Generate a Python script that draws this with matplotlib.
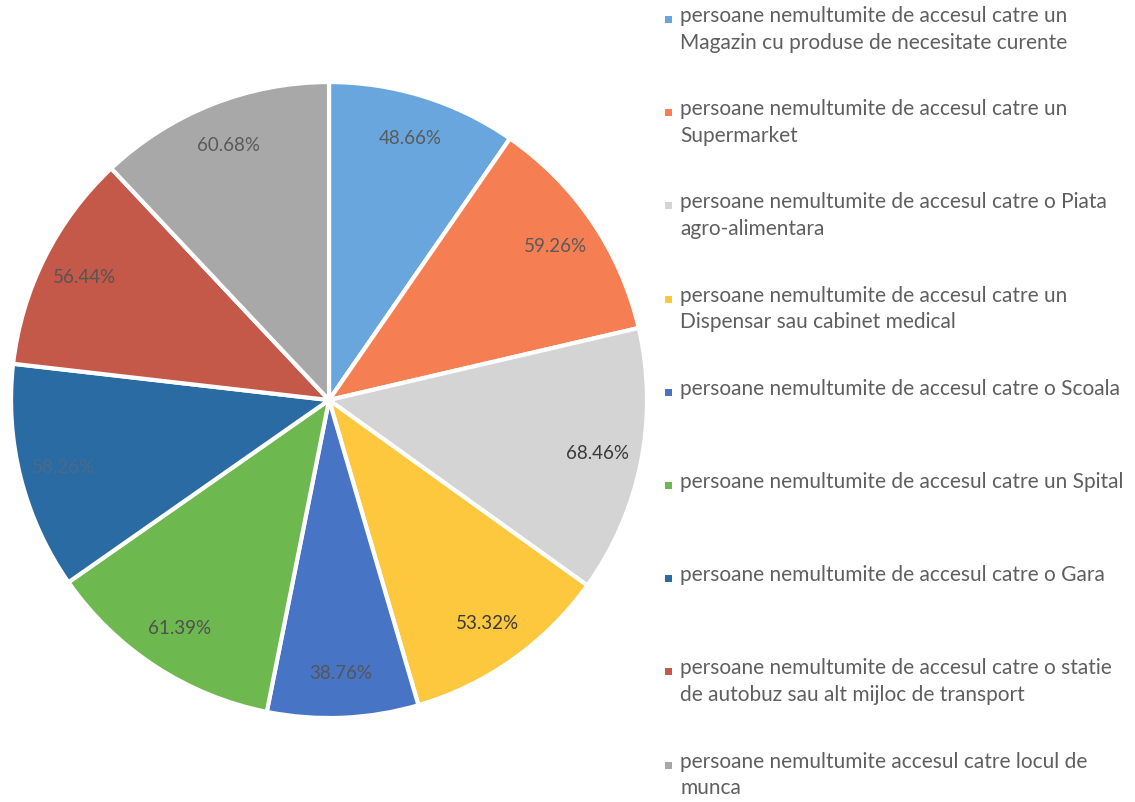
import matplotlib
matplotlib.use("Agg")
import matplotlib.pyplot as plt

# date: procentul persoanelor nemultumite
labels = [
    "persoane nemultumite de accesul catre un\nMagazin cu produse de necesitate curente",
    "persoane nemultumite de accesul catre un\nSupermarket",
    "persoane nemultumite de accesul catre o Piata\nagro-alimentara",
    "persoane nemultumite de accesul catre un\nDispensar sau cabinet medical",
    "persoane nemultumite de accesul catre o Scoala",
    "persoane nemultumite de accesul catre un Spital",
    "persoane nemultumite de accesul catre o Gara",
    "persoane nemultumite de accesul catre o statie\nde autobuz sau alt mijloc de transport",
    "persoane nemultumite accesul catre locul de\nmunca",
]
values = [48.66, 59.26, 68.46, 53.32, 38.76, 61.39, 58.26, 56.44, 60.68]
colors = ["#6AA6DE", "#F57F52", "#D4D4D4", "#FDC73E", "#4874C5",
          "#6DB84F", "#2A6BA3", "#C4594A", "#A8A8A8"]
label_colors = ["#5a5a5a", "#5a5a5a", "#3a3a3a", "#3a3a3a", "#555555",
                "#505050", "#4a6a88", "#555555", "#5a5a5a"]

plt.rcParams["font.family"] = ["Lato", "DejaVu Sans"]

fig = plt.figure(figsize=(11.35, 8.02), dpi=100)
ax = fig.add_axes([0.0097, 0.1047, 0.5604, 0.793])

wedges, texts = ax.pie(values, colors=colors, startangle=90, counterclock=False,
                       labels=[f"{v:.2f}%" for v in values], labeldistance=0.86,
                       wedgeprops=dict(edgecolor="white", linewidth=3),
                       textprops=dict(fontsize=13.5))
for t, lc in zip(texts, label_colors):
    t.set_horizontalalignment("center")
    t.set_color(lc)
ax.set_xlim(-1.0, 1.0)
ax.set_ylim(-1.0, 1.0)
ax.set_aspect("equal")

# legenda, fiecare intrare la pas fix
for i, (lab, c) in enumerate(zip(labels, colors)):
    y = 1 - (6 + i * 93.2) / 802
    fig.patches.append(plt.Rectangle((665 / 1135, y - 17 / 802), 7 / 1135, 7 / 802,
                                     transform=fig.transFigure, facecolor=c,
                                     edgecolor="none"))
    fig.text(680 / 1135, y, lab, color="#5f5f5f", fontsize=15, va="top", ha="left",
             linespacing=1.42)

fig.savefig("out.png", dpi=100)
